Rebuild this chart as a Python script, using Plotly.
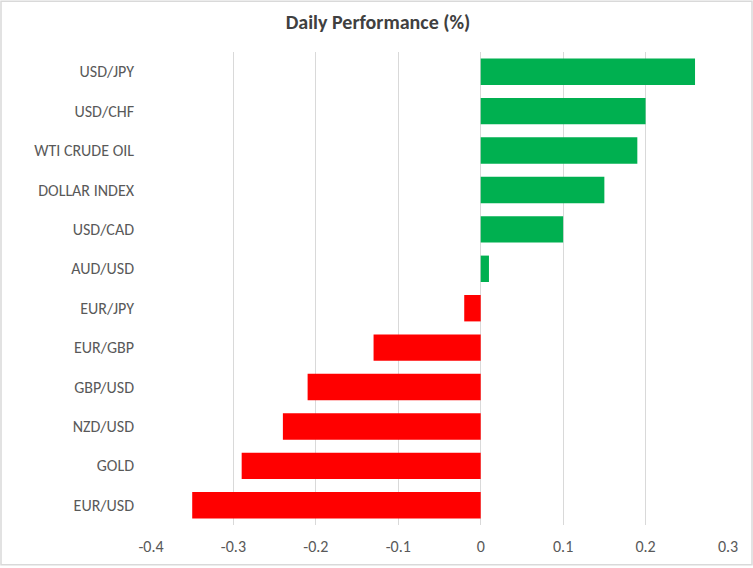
import plotly.graph_objects as go

# categories listed top to bottom as in the chart
assets = ["USD/JPY", "USD/CHF", "WTI CRUDE OIL", "DOLLAR INDEX", "USD/CAD", "AUD/USD",
          "EUR/JPY", "EUR/GBP", "GBP/USD", "NZD/USD", "GOLD", "EUR/USD"]
perf = [0.26, 0.20, 0.19, 0.15, 0.10, 0.01, -0.02, -0.13, -0.21, -0.24, -0.29, -0.35]
x_ticks = [-0.4, -0.3, -0.2, -0.1, 0, 0.1, 0.2, 0.3]
x_labels = ["-0.4", "-0.3", "-0.2", "-0.1", "0", "0.1", "0.2", "0.3"]

colors = ["#00B050" if v >= 0 else "#FF0000" for v in perf]

fig = go.Figure()
fig.add_trace(go.Bar(x=perf, y=assets, orientation="h", marker=dict(color=colors, line=dict(width=0)),
                     hoverinfo="x+y"))

font_family = "Carlito, Lato, sans-serif"
fig.update_layout(
    width=753, height=568,
    margin=dict(l=151, r=25, t=52, b=41),
    paper_bgcolor="white", plot_bgcolor="white",
    title=dict(text="<b>Daily Performance (%)</b>", x=0.502, xref="container", xanchor="center",
               y=0.962, yanchor="middle",
               font=dict(family=font_family, size=20, color="#404040")),
    bargap=0.33,
    showlegend=False,
    font=dict(family=font_family, size=16, color="#595959"),
)
fig.update_xaxes(range=[-0.4, 0.3], tickvals=x_ticks, ticktext=x_labels, showgrid=True,
                 gridcolor="#D9D9D9", gridwidth=1, zeroline=False, showline=False, ticks="",
                 ticklabelstandoff=10)
fig.update_yaxes(categoryorder="array", categoryarray=assets[::-1], showgrid=False,
                 zeroline=False, showline=False, ticks="", ticklabelstandoff=16)

# thin grey border around the whole chart
fig.add_shape(type="rect", xref="paper", yref="paper",
              x0=-150 / 577, x1=1 + 24 / 577, y0=-40 / 475, y1=1 + 51 / 475,
              line=dict(color="#D9D9D9", width=1.5), fillcolor="rgba(0,0,0,0)", layer="below")

fig.write_html("out.html", config={"displayModeBar": False},
               post_script="document.body.style.margin='0';")
